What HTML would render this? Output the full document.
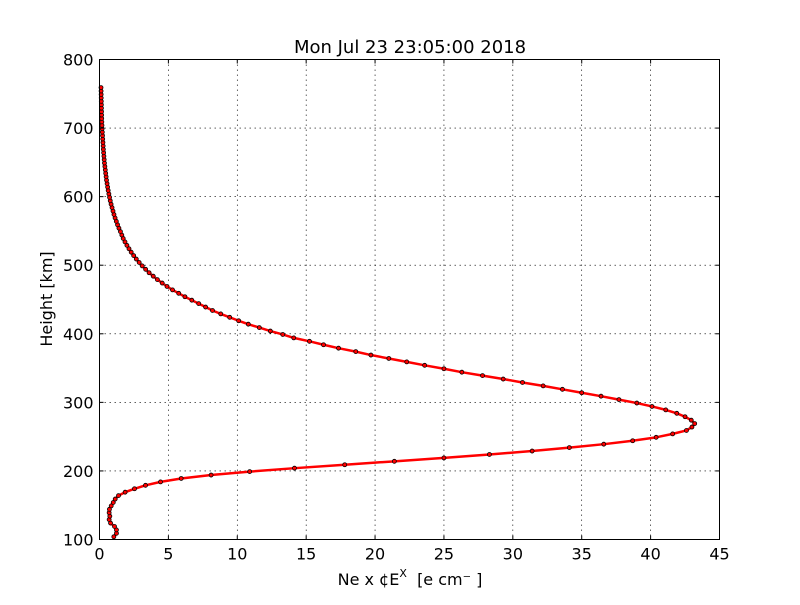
<!DOCTYPE html>
<html><head><meta charset="utf-8"><style>
html,body{margin:0;padding:0;background:#fff;}
svg text{font-family:"DejaVu Sans","Liberation Sans",sans-serif;}
</style></head><body>
<svg id="chart" width="800" height="600" viewBox="0 0 800 600" xmlns="http://www.w3.org/2000/svg">
<rect x="0" y="0" width="800" height="600" fill="#fff"/>
<g id="grid"></g>
<g id="series"></g>
<rect x="99.5" y="59.5" width="620" height="480" fill="none" stroke="#000" stroke-width="1"/>
<g id="ticks"></g>
<text x="410" y="53" font-size="18" text-anchor="middle">Mon Jul 23 23:05:00 2018</text>
<text x="410" y="585" font-size="16" text-anchor="middle">Ne x ¢E<tspan dy="-8" font-size="11">X</tspan><tspan dy="8">&#160;&#160;[e cm⁻ ]</tspan></text>
<text transform="translate(52,299) rotate(-90)" font-size="16" text-anchor="middle">Height [km]</text>
</svg>
<script>
const xTicks=[0,5,10,15,20,25,30,35,40,45];
const yTicks=[100,200,300,400,500,600,700,800];
const heights=[104,109,114,119,124,129,134,139,144,149,154,159,164,169,174,179,184,189,194,199,204,209,
214,219,224,229,234,239,244,249,254,259,264,269,274,279,284,289,294,299,304,309,314,319,324,329,334,339,344,349,354,359,364,369,374,379,384,389,
394,399,404,409,414,419,424,429,434,439,444,449,454,459,464,469,474,479,484,489,494,499,504,509,514,519,524,529,534,539,544,549,554,559,564,569,574,579,584,589,594,599,604,609,614,619,624,629,634,639,644,649,654,659,664,669,674,679,684,689,694,699,704,709,714,719,724,729,734,739,744,749,754,759];
const neValues=[1.04,1.23,1.23,1.09,0.8,0.7,0.75,0.7,0.72,0.85,1.0,1.14,1.38,1.86,2.54,3.34,4.43,5.93,8.1,10.9,14.15,17.8,
21.4,25.0,28.3,31.4,34.1,36.6,38.7,40.4,41.6,42.6,43.0,43.2,42.95,42.5,41.9,41.1,40.1,39.0,37.7,36.4,35.0,33.6,32.2,30.7,29.3,27.8,26.3,25.0,23.6,22.3,21.0,19.7,18.6,17.35,16.26,15.24,
14.1,13.3,12.4,11.6,10.8,10.1,9.45,8.8,8.2,7.7,7.2,6.7,6.2,5.75,5.3,4.9,4.55,4.2,3.9,3.6,3.35,3.1,2.88,2.67,2.48,2.3,2.14,1.99,1.85,1.72,1.62,1.52,1.41,1.31,1.22,1.13,1.05,0.98,0.91,0.84,0.78,0.73,0.68,0.63,0.59,0.55,0.51,0.48,0.45,0.42,0.39,0.36,0.34,0.32,0.30,0.28,0.265,0.25,0.235,0.22,0.205,0.19,0.18,0.17,0.16,0.155,0.148,0.142,0.136,0.13,0.125,0.12,0.115,0.11];
const NS="http://www.w3.org/2000/svg";
const L=99.5,R=719.5,T=59.5,B=539.5;
function xs(v){return L+(v-0)/(45-0)*(R-L);}
function ys(v){return B-(v-100)/(800-100)*(B-T);}
function mk(tag,attrs,parent){const e=document.createElementNS(NS,tag);for(const k in attrs)e.setAttribute(k,attrs[k]);parent.appendChild(e);return e;}
const grid=document.getElementById('grid'),ticks=document.getElementById('ticks'),series=document.getElementById('series');
xTicks.forEach(t=>{
  const x=xs(t);
  if(t>0&&t<45){const g=mk('line',{x1:x,x2:x,y1:T,y2:B,stroke:'#000','stroke-width':0.6,'stroke-dasharray':'1.5,3.5'},grid);
  
  }
  const a=mk('line',{x1:x,x2:x,y1:B,y2:B-4,stroke:'#000'},ticks);
  
  
  const b=mk('line',{x1:x,x2:x,y1:T,y2:T+4,stroke:'#000'},ticks);
  
  
  const tx=mk('text',{x:x,y:B+20,'font-size':16,'text-anchor':'middle'},ticks);
  tx.textContent=t;
  
  
});
yTicks.forEach(t=>{
  const y=ys(t);
  if(t>100&&t<800){const g=mk('line',{x1:L,x2:R,y1:y,y2:y,stroke:'#000','stroke-width':0.6,'stroke-dasharray':'1.5,3.5'},grid);
  
  }
  const a=mk('line',{x1:L,x2:L+4,y1:y,y2:y,stroke:'#000'},ticks);
  
  
  const b=mk('line',{x1:R,x2:R-4,y1:y,y2:y,stroke:'#000'},ticks);
  
  
  const tx=mk('text',{x:L-6,y:y+6,'font-size':16,'text-anchor':'end'},ticks);
  tx.textContent=t;
  
  
});
const pts=heights.map((h,i)=>xs(neValues[i]).toFixed(2)+','+ys(h).toFixed(2)).join(' ');
const pl=mk('polyline',{points:pts,fill:'none',stroke:'#f00','stroke-width':2.5,'stroke-linejoin':'round'},series);


heights.forEach((h,i)=>{
  const c=mk('circle',{cx:xs(neValues[i]),cy:ys(h),r:2,fill:'#f00',stroke:'#000','stroke-width':0.8},series);
  
  
});
</script>
</body></html>
